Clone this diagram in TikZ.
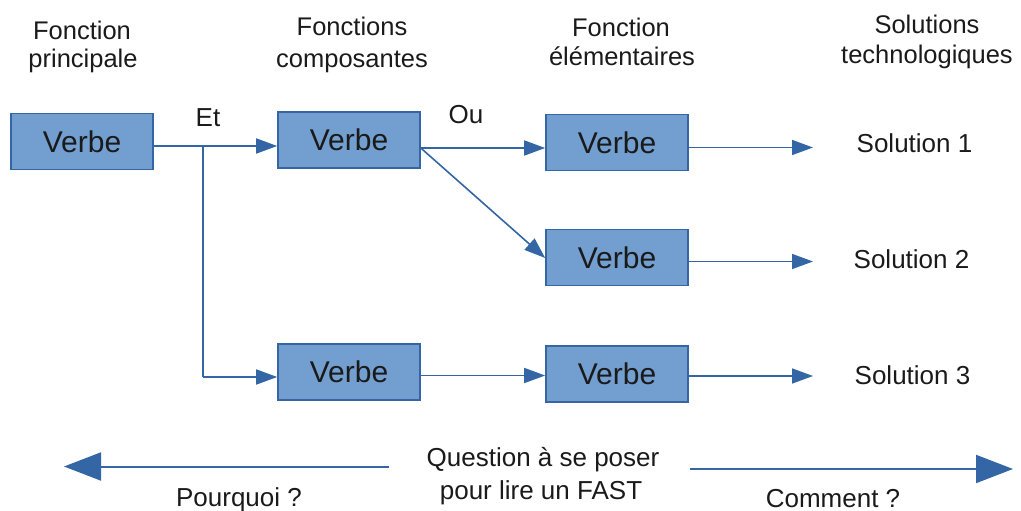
\documentclass[tikz,border=0pt]{standalone}
\usepackage{fontspec}
\setmainfont{Liberation Sans}
\usetikzlibrary{arrows.meta}
\definecolor{boxfill}{HTML}{729FCF}
\definecolor{boxline}{HTML}{3465A4}
\definecolor{txt}{HTML}{1A1A1A}
\begin{document}
\begin{tikzpicture}[x=1pt,y=-1pt,
  verbbox/.style={draw=boxline, fill=boxfill, line width=1.6pt,
    minimum width=142pt, minimum height=56pt, inner sep=0pt,
    font=\fontsize{30}{32}\selectfont, text=txt},
  conn/.style={draw=boxline, line width=1.6pt,
    -{Triangle[length=21pt,width=15pt]}},
  plain/.style={draw=boxline, line width=1.6pt},
  bigarrow/.style={draw=boxline, line width=2pt,
    -{Triangle[length=37pt,width=28pt]}},
  hdr/.style={anchor=base, inner sep=0pt, text=txt,
    font=\fontsize{25.5}{27}\selectfont},
  sol/.style={anchor=base, inner sep=0pt, text=txt,
    font=\fontsize{26}{28}\selectfont},
  lbl/.style={anchor=base, inner sep=0pt, text=txt,
    font=\fontsize{26}{28}\selectfont}]
\useasboundingbox (0,0) rectangle (1021,511);

% headers
\node[hdr] (h1a) at (82,40) {Fonction};
\node[hdr] (h1b) at (83,68) {principale};
\node[hdr] (h2a) at (352,36) {Fonctions};
\node[hdr] (h2b) at (352,68) {composantes};
\node[hdr] (h3a) at (621,37) {Fonction};
\node[hdr] (h3b) at (622,66) {élémentaires};
\node[hdr] (h4a) at (927,34) {Solutions};
\node[hdr] (h4b) at (927,64) {technologiques};

% boxes
\node[verbbox] (b1) at (82,141.5) {Verbe};
\node[verbbox] (b2) at (349,140) {Verbe};
\node[verbbox] (b3) at (617,142.5) {Verbe};
\node[verbbox] (b4) at (617,257.5) {Verbe};
\node[verbbox] (b5) at (349,372) {Verbe};
\node[verbbox] (b6) at (617,374) {Verbe};

% labels
\node[lbl] (et) at (208,126) {Et};
\node[lbl] (ou) at (466,124) {Ou};

% solutions
\node[sol] (s1) at (914.5,153) {Solution 1};
\node[sol] (s2) at (911.5,268) {Solution 2};
\node[sol] (s3) at (912.5,384) {Solution 3};

% connectors
\coordinate (j) at (203,146);
\coordinate (jb) at (203,377);
\draw[plain] (b1.east |- j) -- (j);
\draw[conn] (j) -- (b2.west |- j);
\draw[plain] (j) -- (jb);
\draw[conn] (jb) -- (b5.west |- jb);
\coordinate (o) at (421,148);
\draw[conn] (b2.east |- o) -- (b3.west |- o);
\draw[conn] (b2.east |- o) -- ([yshift=-0.5pt]b4.west);
\coordinate (m) at (421,375.5);
\draw[conn] (b5.east |- m) -- (b6.west |- m);

\coordinate (e1) at (813,147.5);
\coordinate (e2) at (813,261.5);
\coordinate (e3) at (813,376);
\draw[conn] (b3.east |- e1) -- (e1);
\draw[conn] (b4.east |- e2) -- (e2);
\draw[conn] (b6.east |- e3) -- (e3);

% bottom
\node[lbl] (q1) at (543,466) {Question à se poser};
\node[lbl] (q2) at (541,499) {pour lire un FAST};
\node[lbl] (pq) at (239,506) {Pourquoi ?};
\node[lbl] (cm) at (833,507) {Comment ?};
\coordinate (la) at (389,466.5);
\coordinate (lt) at (64,466.5);
\coordinate (ra) at (690,469);
\coordinate (rt) at (1013,469);
\draw[bigarrow] (la) -- (lt);
\draw[bigarrow] (ra) -- (rt);
\end{tikzpicture}
\end{document}
